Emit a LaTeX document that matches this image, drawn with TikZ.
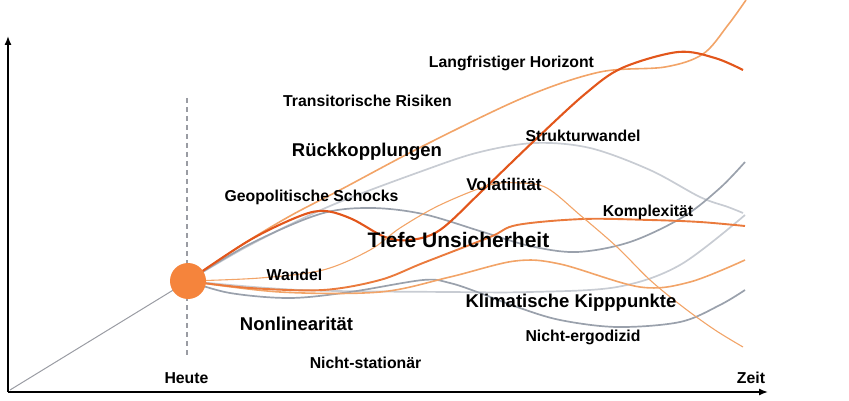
\documentclass[tikz,border=0pt]{standalone}
\usepackage{fontspec}
\setmainfont{Liberation Sans}
\usetikzlibrary{arrows.meta}
\definecolor{dorange}{HTML}{E2561B}
\definecolor{morange}{HTML}{EA7A3C}
\definecolor{lorange}{HTML}{F2A468}
\definecolor{dotorange}{HTML}{F5843C}
\definecolor{mgray}{HTML}{9AA1AC}
\definecolor{lgray}{HTML}{C8CCD3}
\definecolor{axgray}{HTML}{9A9CA3}
\begin{document}
\begin{tikzpicture}[x=1pt,y=-1pt,
  lbl/.style={font=\bfseries\fontsize{15.8}{18}\selectfont, anchor=base, inner sep=0pt},
  lblL/.style={font=\bfseries\fontsize{18.5}{21}\selectfont, anchor=base, inner sep=0pt},
  lblXL/.style={font=\bfseries\fontsize{21}{24}\selectfont, anchor=base, inner sep=0pt},
  axis/.style={line width=1.4pt, -{Latex[length=9pt,width=7pt]}},
  curve/.style={smooth, tension=0.55},
  cdark/.style={draw=dorange, line width=2.1pt},
  cmed/.style={draw=morange, line width=1.9pt},
  clight/.style={draw=lorange, line width=1.6pt},
  cthin/.style={draw=lorange, line width=1.1pt},
  cgray/.style={draw=mgray, line width=1.7pt},
  clgray/.style={draw=lgray, line width=1.7pt},
  dot/.style={circle, fill=dotorange, minimum size=36pt, inner sep=0pt}]
\useasboundingbox (0,0) rectangle (849,401);
\coordinate (O) at (8,392);
\coordinate (ytop) at (8,36);
\coordinate (xend) at (768,392);
\coordinate (origin) at (188,281);
\coordinate (dtop) at (187,98);
\coordinate (dbot) at (187,358);
% axes
\draw[axis] (O) -- (ytop);
\draw[axis] (O) -- (xend);
\draw[axgray, line width=1pt] (10,390) -- (origin);
\draw[axgray, line width=1.2pt, dash pattern=on 5pt off 4pt] (dtop) -- (dbot);
% curves
\draw[clgray] plot[curve] coordinates {(origin) (250,245) (330,206) (425,170) (480,152) (535,143) (590,148) (650,170) (700,197) (728,207) (743,213)};
\draw[cgray] plot[curve] coordinates {(origin) (250,244) (320,214) (370,208) (423,214) (483,232) (530,246) (577,252) (630,242) (683,217) (720,188) (745,162)};
\draw[clight] plot[curve] coordinates {(origin) (240,246) (290,216) (340,190) (425,145) (525,97) (600,72) (665,67) (703,54) (728,25) (746,0)};
\draw[cdark] plot[curve] coordinates {(origin) (250,240) (300,216) (325,211) (352,219) (385,237) (410,240) (440,230) (483,190) (535,140) (585,94) (622,68) (678,52) (715,58) (743,70)};
\draw[clgray] plot[curve] coordinates {(origin) (300,290) (450,292) (530,292) (617,287) (680,265) (745,215)};
\draw[cgray] plot[curve] coordinates {(origin) (230,293) (290,298) (350,292) (423,280) (450,283) (480,293) (517,307) (560,320) (617,327) (680,322) (720,305) (745,290)};
\draw[clight] plot[curve] coordinates {(origin) (280,292) (380,292) (450,277) (515,261) (560,264) (640,287) (690,282) (745,260)};
\draw[cmed] plot[curve] coordinates {(origin) (250,288) (323,290) (380,280) (423,263) (490,237) (517,225) (583,219) (650,220) (700,222) (745,226)};
\draw[cthin] plot[curve] coordinates {(origin) (260,278) (323,270) (370,250) (400,228) (440,205) (490,185) (520,183) (547,188) (580,215) (617,247) (650,280) (683,307) (715,330) (743,347)};
% dot
\node[dot] (today) at (origin) {};
% labels
\node[lbl] (lh) at (511.5,68) {Langfristiger Horizont};
\node[lbl] (tr) at (367.5,107) {Transitorische Risiken};
\node[lblL] (rk) at (367,157) {Rückkopplungen};
\node[lbl] (sw) at (583,141.5) {Strukturwandel};
\node[lbl] (gs) at (311.5,201) {Geopolitische Schocks};
\node[lbl, font=\bfseries\fontsize{17}{19}\selectfont] (vo) at (504,190) {Volatilität};
\node[lbl] (ko) at (648,216.5) {Komplexität};
\node[lblXL] (tu) at (458.5,247) {Tiefe Unsicherheit};
\node[lbl] (wa) at (294.5,280) {Wandel};
\node[lblL] (kk) at (571,307) {Klimatische Kipppunkte};
\node[lblL] (nl) at (296.5,330) {Nonlinearität};
\node[lbl] (ne) at (583,341.5) {Nicht-ergodizid};
\node[lbl] (ns) at (365.5,368) {Nicht-stationär};
\node[lbl] (he) at (186.5,383) {Heute};
\node[lbl] (ze) at (751,383) {Zeit};
\end{tikzpicture}
\end{document}
